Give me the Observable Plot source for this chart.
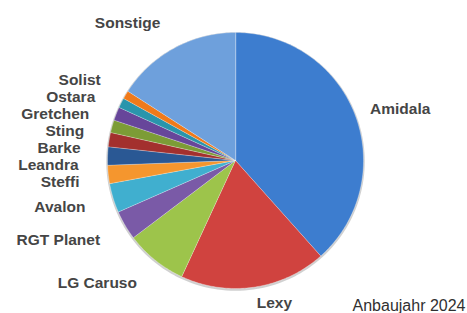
<!DOCTYPE html>
<html>
<head>
<meta charset="utf-8">
<script src="https://cdn.jsdelivr.net/npm/d3@7"></script>
<script src="https://cdn.jsdelivr.net/npm/@observablehq/plot@0.6"></script>
<style>
  html, body { margin: 0; padding: 0; background: #fff; }
  #chart svg { display: block; }
</style>
</head>
<body>
<div id="chart"></div>
<script>
// ---- data (percent of area) ----
const categories = ["Amidala","Lexy","LG Caruso","RGT Planet","Avalon","Steffi","Leandra","Barke","Sting","Gretchen","Ostara","Solist","Sonstige"];
const shares     = [38.4, 18.5, 7.8, 3.7, 3.7, 2.3, 2.3, 1.8, 1.6, 1.7, 1.25, 1.05, 15.9];
const colors     = ["#3D7DCF","#D0433F","#9DC44B","#7A5AA7","#40AFCF","#F5962E","#2A5894","#A3302E","#7C9C36","#67469A","#2A95AC","#F07A1A","#6EA0DC"];
const note       = ["Anbaujahr 2024"];

// ---- layout ----
const W = 467, H = 313;
const cx = 235, cy = 160, R = 128;   // pie centre and radius in px

const arcs = d3.pie().sort(null).value(d => d)(shares);

// slice polygons in unit coordinates (y up, angle clockwise from 12 o'clock)
const slicePts = [];
arcs.forEach((a, i) => {
  const name = categories[i];
  slicePts.push({name, x: 0, y: 0});
  const n = Math.max(2, Math.ceil((a.endAngle - a.startAngle) / (Math.PI / 180)));
  for (let k = 0; k <= n; k++) {
    const t = a.startAngle + (a.endAngle - a.startAngle) * k / n;
    slicePts.push({name, x: Math.sin(t), y: Math.cos(t)});
  }
});
const rim = d3.range(0, 361, 2).map(d => ({x: Math.sin(d * Math.PI / 180), y: Math.cos(d * Math.PI / 180)}));

// labels: right side anchored at start, left side anchored at end, pushed apart vertically
const labels = arcs.map((a, i) => {
  const m = (a.startAngle + a.endAngle) / 2;
  const right = m < Math.PI;
  const rr = (R + (right ? 16 : 29)) / R;
  return {name: categories[i], right, x: rr * Math.sin(m), y: rr * Math.cos(m)};
});
const left = labels.filter(d => !d.right).sort((a, b) => b.y - a.y);
const gap = 17 / R;
for (let i = 1; i < left.length; i++) {
  if (left[i - 1].y - left[i].y < gap) left[i].y = left[i - 1].y - gap;
}
const rightL = labels.filter(d => d.right);

const font = "'Liberation Sans', Arial, Helvetica, sans-serif";
const textStyle = {fontSize: 15.5, fontWeight: "bold", fill: "#454545", fontFamily: font, lineAnchor: "middle"};

const chart = Plot.plot({
  width: W, height: H,
  marginTop: 0, marginRight: 0, marginBottom: 0, marginLeft: 0,
  x: {domain: [-cx / R, (W - cx) / R], axis: null},
  y: {domain: [-(H - cy) / R, cy / R], axis: null},
  color: {domain: categories, range: colors, type: "ordinal"},
  style: {fontFamily: font, background: "#fff", overflow: "visible"},
  marks: [
    Plot.line(rim, {x: "x", y: "y", stroke: "#777", strokeWidth: 2.5, strokeOpacity: 0.35, dy: 1, curve: "linear-closed"}),
    Plot.line(slicePts, {x: "x", y: "y", z: "name", fill: "name", stroke: "#ffffff", strokeOpacity: 0.35, strokeWidth: 0.8, curve: "linear-closed"}),
    Plot.text(rightL, {x: "x", y: "y", text: "name", textAnchor: "start", ...textStyle}),
    Plot.text(left, {x: "x", y: "y", text: "name", textAnchor: "end", ...textStyle}),
    Plot.text(note, {frameAnchor: "bottom-right", text: d => d, dx: -2, dy: -3, fontSize: 16, fill: "#303030", fontFamily: font, lineAnchor: "bottom"})
  ]
});
document.getElementById("chart").appendChild(chart);
</script>
</body>
</html>
